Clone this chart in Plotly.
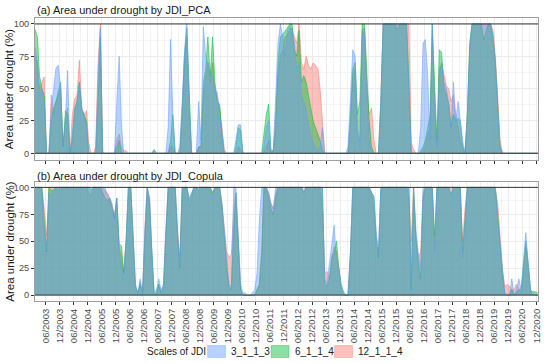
import plotly.graph_objects as go
import pandas as pd

# ---------------- data (monthly, Jan 2003 .. Dec 2020) ----------------
months = pd.date_range("2003-01-01", periods=216, freq="MS") + pd.Timedelta(days=14)

series_names = ["3_1_1_3", "6_1_1_4", "12_1_1_4"]

pca_3 = [
    82, 70, 45, 50, 40, 0, 0, 35, 50, 66, 68, 50,          # 2003
    5, 25, 64, 0, 15, 35, 40, 55, 35, 30, 20, 0,           # 2004
    0, 0, 0, 60, 97, 0, 0, 0, 0, 0, 0, 40,                 # 2005
    75, 20, 0, 0, 0, 0, 0, 0, 0, 0, 0, 0,                  # 2006
    0, 0, 0, 2, 0, 0, 0, 0, 0, 20, 88, 30,                 # 2007
    0, 0, 5, 40, 80, 100, 40, 0, 0, 0, 40, 10,             # 2008
    98, 75, 70, 60, 60, 50, 47, 30, 15, 0, 0, 0,           # 2009
    0, 0, 10, 22, 22, 0, 0, 0, 0, 0, 0, 0,                 # 2010
    0, 0, 5, 20, 25, 2, 2, 40, 85, 100, 90, 75,            # 2011
    95, 98, 95, 85, 65, 70, 45, 40, 35, 22, 15, 8,         # 2012
    5, 2, 5, 20, 0, 0, 0, 0, 0, 0, 0, 0,                   # 2013
    0, 0, 5, 50, 80, 75, 20, 5, 90, 95, 40, 10,            # 2014
    0, 0, 0, 0, 40, 100, 100, 100, 100, 100, 100, 100,     # 2015
    100, 100, 100, 100, 50, 0, 0, 0, 0, 20, 85, 88,        # 2016
    60, 10, 100, 30, 5, 60, 70, 55, 50, 40, 20, 55,        # 2017
    25, 40, 25, 10, 0, 30, 80, 100, 100, 100, 100, 100,    # 2018
    100, 100, 100, 100, 90, 70, 35, 5, 0, 0, 0, 0,         # 2019
    0, 0, 0, 0, 0, 0, 0, 0, 0, 0, 0, 0,                    # 2020
]
pca_6 = [
    96, 90, 60, 50, 45, 0, 0, 25, 35, 40, 48, 55,
    5, 33, 30, 0, 10, 33, 40, 55, 33, 30, 25, 0,
    0, 0, 0, 40, 90, 0, 0, 0, 0, 0, 0, 5,
    10, 0, 0, 0, 0, 0, 0, 0, 0, 0, 0, 0,
    0, 0, 0, 3, 0, 0, 0, 0, 0, 0, 10, 30,
    0, 0, 0, 35, 75, 97, 45, 0, 0, 0, 5, 5,
    55, 65, 90, 60, 90, 55, 40, 38, 15, 0, 0, 0,
    0, 0, 5, 20, 18, 0, 0, 0, 0, 0, 0, 0,
    0, 0, 15, 30, 38, 2, 2, 20, 70, 90, 92, 95,
    97, 100, 100, 80, 75, 95, 55, 60, 55, 45, 35, 25,
    20, 15, 10, 2, 0, 0, 0, 0, 0, 0, 0, 0,
    0, 0, 0, 30, 65, 70, 30, 40, 100, 100, 60, 25,
    5, 0, 0, 0, 40, 100, 100, 100, 100, 100, 100, 95,
    100, 100, 100, 100, 55, 0, 0, 0, 0, 2, 5, 10,
    20, 30, 100, 50, 10, 80, 78, 50, 45, 38, 20, 30,
    25, 27, 25, 5, 0, 30, 85, 100, 100, 100, 100, 100,
    88, 95, 100, 100, 90, 70, 35, 5, 0, 0, 0, 0,
    0, 0, 0, 0, 0, 0, 0, 0, 0, 0, 0, 0,
]
pca_12 = [
    75, 70, 50, 55, 59, 0, 0, 45, 30, 40, 45, 50,
    5, 25, 35, 0, 30, 42, 45, 72, 35, 30, 33, 8,
    0, 0, 5, 70, 100, 0, 0, 0, 0, 0, 0, 10,
    15, 5, 2, 2, 0, 0, 0, 0, 0, 0, 0, 0,
    0, 0, 0, 0, 0, 0, 0, 0, 0, 0, 5, 5,
    0, 0, 0, 30, 75, 90, 35, 0, 0, 0, 5, 5,
    45, 60, 70, 55, 70, 50, 42, 35, 20, 3, 0, 0,
    0, 0, 0, 5, 3, 0, 0, 0, 0, 0, 0, 0,
    0, 0, 0, 5, 10, 0, 2, 30, 60, 75, 80, 90,
    92, 95, 97, 90, 85, 100, 70, 65, 75, 68, 65, 70,
    68, 65, 50, 25, 0, 0, 0, 0, 0, 0, 0, 0,
    0, 0, 0, 20, 60, 65, 15, 10, 95, 97, 50, 30,
    35, 10, 0, 0, 40, 100, 100, 100, 100, 100, 100, 100,
    100, 100, 100, 100, 100, 8, 3, 0, 0, 0, 3, 5,
    15, 20, 95, 40, 5, 65, 70, 60, 52, 50, 40, 45,
    30, 20, 10, 5, 0, 30, 80, 100, 100, 100, 100, 100,
    100, 100, 100, 100, 95, 75, 45, 10, 0, 0, 0, 0,
    0, 0, 0, 0, 0, 0, 0, 0, 0, 0, 0, 0,
]

cop_3 = [
    100, 100, 100, 95, 60, 42, 95, 93, 97, 100, 100, 100,
    100, 100, 100, 100, 100, 100, 100, 100, 100, 100, 100, 100,
    98, 100, 100, 100, 100, 100, 100, 92, 90, 85, 70, 90,
    40, 25, 20, 50, 100, 100, 60, 10, 2, 15, 2, 60,
    100, 90, 40, 3, 5, 15, 5, 10, 60, 100, 100, 100,
    100, 55, 30, 100, 100, 100, 90, 95, 100, 100, 98, 100,
    100, 100, 100, 100, 92, 100, 100, 100, 85, 60, 35, 10,
    8, 100, 100, 60, 10, 2, 2, 0, 0, 2, 5, 20,
    70, 100, 100, 100, 95, 85, 80, 100, 100, 100, 100, 100,
    100, 100, 100, 100, 100, 100, 100, 95, 100, 100, 100, 100,
    100, 100, 100, 100, 15, 10, 30, 50, 65, 30, 25, 8,
    2, 0, 0, 40, 100, 100, 100, 100, 100, 100, 100, 100,
    95, 90, 60, 40, 100, 100, 100, 100, 100, 100, 100, 100,
    100, 100, 100, 100, 100, 5, 100, 60, 38, 25, 100, 100,
    100, 100, 100, 40, 100, 100, 100, 100, 100, 100, 93, 100,
    100, 100, 100, 35, 70, 100, 100, 100, 100, 100, 100, 100,
    100, 100, 100, 100, 100, 100, 70, 45, 20, 2, 0, 0,
    15, 0, 5, 15, 5, 30, 58, 30, 5, 2, 0, 0,
]
cop_6 = [
    100, 100, 100, 100, 70, 40, 100, 97, 98, 100, 97, 100,
    100, 100, 100, 100, 100, 100, 100, 100, 100, 100, 100, 100,
    98, 100, 100, 100, 100, 95, 90, 88, 90, 80, 72, 90,
    48, 45, 20, 50, 100, 100, 55, 8, 2, 12, 2, 55,
    100, 85, 40, 1, 2, 10, 2, 8, 55, 100, 100, 100,
    100, 55, 25, 100, 100, 100, 88, 95, 100, 100, 98, 100,
    100, 100, 100, 100, 95, 100, 100, 100, 82, 55, 25, 8,
    5, 60, 95, 50, 5, 0, 0, 0, 0, 0, 0, 5,
    10, 40, 100, 100, 90, 80, 75, 90, 100, 100, 100, 100,
    100, 100, 100, 100, 100, 100, 100, 95, 100, 100, 100, 100,
    100, 100, 100, 100, 10, 8, 15, 35, 40, 50, 25, 10,
    3, 0, 0, 40, 100, 100, 100, 100, 100, 100, 100, 100,
    95, 92, 55, 35, 100, 100, 100, 100, 100, 100, 100, 100,
    100, 100, 100, 100, 100, 5, 100, 55, 30, 15, 90, 100,
    100, 100, 100, 55, 100, 100, 100, 100, 100, 100, 93, 100,
    100, 100, 100, 40, 75, 100, 100, 100, 100, 100, 100, 100,
    100, 100, 100, 100, 100, 100, 75, 45, 20, 2, 0, 0,
    5, 0, 2, 5, 5, 25, 50, 30, 5, 3, 3, 2,
]
cop_12 = [
    100, 100, 100, 100, 80, 55, 100, 100, 100, 100, 100, 100,
    100, 100, 100, 100, 100, 100, 100, 100, 100, 100, 100, 95,
    92, 100, 100, 100, 100, 100, 97, 95, 90, 82, 75, 90,
    45, 35, 22, 50, 100, 100, 60, 8, 2, 10, 0, 60,
    100, 90, 40, 1, 2, 10, 2, 8, 60, 100, 100, 100,
    100, 60, 35, 100, 100, 100, 82, 90, 100, 100, 100, 100,
    100, 100, 100, 100, 95, 100, 100, 100, 85, 60, 40, 35,
    38, 80, 95, 50, 5, 0, 0, 0, 0, 0, 0, 5,
    10, 40, 100, 100, 95, 85, 80, 95, 100, 100, 100, 100,
    100, 100, 100, 100, 100, 100, 100, 98, 100, 100, 100, 100,
    100, 100, 100, 80, 20, 22, 15, 35, 45, 40, 25, 5,
    0, 0, 2, 40, 100, 100, 100, 100, 100, 100, 100, 100,
    95, 80, 45, 40, 95, 100, 100, 100, 100, 100, 100, 100,
    100, 100, 100, 100, 90, 50, 100, 50, 35, 40, 95, 100,
    100, 100, 100, 40, 100, 100, 100, 100, 100, 100, 100, 100,
    100, 100, 100, 50, 80, 100, 100, 100, 100, 100, 100, 100,
    100, 100, 100, 100, 100, 98, 85, 55, 25, 8, 10, 8,
    5, 5, 10, 5, 2, 20, 45, 25, 3, 0, 0, 0,
]

tick_labels = [
    "06/2003", "12/2003", "06/2004", "12/2004", "06/2005", "12/2005",
    "06/2006", "12/2006", "06/2007", "12/2007", "06/2008", "12/2008",
    "06/2009", "12/2009", "06/2010", "12/2010", "06/2011", "12/2011",
    "06/2012", "12/2012", "06/2013", "12/2013", "06/2014", "12/2014",
    "06/2015", "12/2015", "06/2016", "12/2016", "06/2017", "12/2017",
    "06/2018", "12/2018", "06/2019", "12/2019", "06/2020", "12/2020",
]
y_ticks = [0, 25, 50, 75, 100]
panel_titles = ["(a) Area under drought by JDI_PCA", "(b) Area under drought by JDI_Copula"]
legend_title = "Scales of JDI"

# ---------------- styling ----------------
colors = {"3_1_1_3": "97,156,255", "6_1_1_4": "0,186,56", "12_1_1_4": "248,118,109"}
FONT = "Liberation Sans, Arial, sans-serif"
tick_vals = [f"{t[3:]}-{t[:2]}-01" for t in tick_labels]
minor_vals = []
for y in range(2003, 2021):
    minor_vals += [f"{y}-03-01", f"{y}-09-01"]
x_range = ["2003-01-15", "2020-12-21"]

fig = go.Figure()
panels = [
    ("x", "y", {"3_1_1_3": pca_3, "6_1_1_4": pca_6, "12_1_1_4": pca_12}),
    ("x2", "y2", {"3_1_1_3": cop_3, "6_1_1_4": cop_6, "12_1_1_4": cop_12}),
]
for xa, ya, data in panels:
    for name in ["12_1_1_4", "6_1_1_4", "3_1_1_3"]:
        c = colors[name]
        fig.add_trace(go.Scatter(
            x=months, y=data[name], name=name, xaxis=xa, yaxis=ya,
            mode="lines", fill="tozeroy",
            line=dict(color=f"rgba({c},0.75)", width=0.7),
            fillcolor=f"rgba({c},0.45)", showlegend=False,
        ))

W, H = 550, 363
L, R = 35, 542          # plot area left/right in pixels
H_TOP, H_BOT = 18, 301  # plot area top/bottom in pixels
def px_(x):
    return (x - L) / (R - L)
def py(y):
    return (H_BOT - y) / (H_BOT - H_TOP)

common_x = dict(
    type="date", range=x_range, tickmode="array", tickvals=tick_vals, ticktext=tick_labels,
    ticks="outside", ticklen=3, tickcolor="#333333", showgrid=True, gridcolor="#EBEBEB",
    gridwidth=1, showline=True, mirror=True, linecolor="#A0A0A0", linewidth=1,
    zeroline=False,
    minor=dict(tickmode="array", tickvals=minor_vals, showgrid=True, gridcolor="#F4F4F4", ticks=""),
    tickfont=dict(family=FONT, size=9.5, color="#4D4D4D"),
)
common_y = dict(
    tickmode="array", tickvals=y_ticks, ticks="outside", ticklen=3, tickcolor="#333333",
    showgrid=True, gridcolor="#EBEBEB", showline=True, mirror=True, linecolor="#A0A0A0",
    linewidth=1, zeroline=False,
    minor=dict(tickmode="array", tickvals=[12.5, 37.5, 62.5, 87.5], showgrid=True,
               gridcolor="#F4F4F4", ticks=""),
    tickfont=dict(family=FONT, size=9.2, color="#4D4D4D"),
)

fig.update_layout(
    width=W, height=H,
    margin=dict(l=L, r=W - R, t=H_TOP, b=H - H_BOT),
    paper_bgcolor="white", plot_bgcolor="white",
    font=dict(family=FONT, color="#1A1A1A"),
    xaxis=dict(common_x, anchor="y", domain=[0, 1], showticklabels=False),
    xaxis2=dict(common_x, anchor="y2", domain=[0, 1], showticklabels=True, tickangle=-90),
    yaxis=dict(common_y, anchor="x", domain=[py(160), 1], range=[-5.2, 104.6]),
    yaxis2=dict(common_y, anchor="x2", domain=[0, py(182)], range=[-5.5, 105]),
    showlegend=False,
)

# horizontal reference lines at 0 and 100
for xa, ya in [("x", "y"), ("x2", "y2")]:
    for v in [0, 100]:
        fig.add_shape(type="line", xref=f"{xa} domain", yref=ya, x0=0, x1=1, y0=v, y1=v,
                      line=dict(color="#333333", width=1), layer="above")

# panel titles
for title, ypx in zip(panel_titles, [10, 176]):
    fig.add_annotation(text=title, xref="paper", yref="paper", x=0, y=py(ypx),
                       xanchor="left", yanchor="middle", showarrow=False,
                       font=dict(size=11, family=FONT, color="#1A1A1A"))

# y-axis titles
for ymid in [(18 + 160) / 2, (182 + 301) / 2]:
    fig.add_annotation(text="Area under drought (%)", xref="paper", yref="paper",
                       x=px_(9), y=py(ymid), xanchor="center", yanchor="middle",
                       textangle=-90, showarrow=False,
                       font=dict(size=11.5, family=FONT, color="#1A1A1A"))

# legend (bottom, horizontal)
LEG_Y = 351.5
fig.add_annotation(text=legend_title, xref="paper", yref="paper", x=px_(146), y=py(LEG_Y),
                   xanchor="left", yanchor="middle", showarrow=False,
                   font=dict(size=10, family=FONT, color="#1A1A1A"))
key_x = {"3_1_1_3": 209, "6_1_1_4": 273, "12_1_1_4": 337}
for name in series_names:
    c = colors[name]
    x0 = key_x[name]
    fig.add_shape(type="rect", xref="paper", yref="paper",
                  x0=px_(x0), x1=px_(x0 + 18), y0=py(LEG_Y + 6), y1=py(LEG_Y - 6),
                  fillcolor=f"rgba({c},0.45)", line=dict(color=f"rgba({c},0.6)", width=0.6))
    fig.add_annotation(text=name, xref="paper", yref="paper", x=px_(x0 + 22), y=py(LEG_Y),
                       xanchor="left", yanchor="middle", showarrow=False,
                       font=dict(size=10, family=FONT, color="#1A1A1A"))

fig.write_html("out.html", config={"displayModeBar": False},
               post_script="document.body.style.margin='0px';")
